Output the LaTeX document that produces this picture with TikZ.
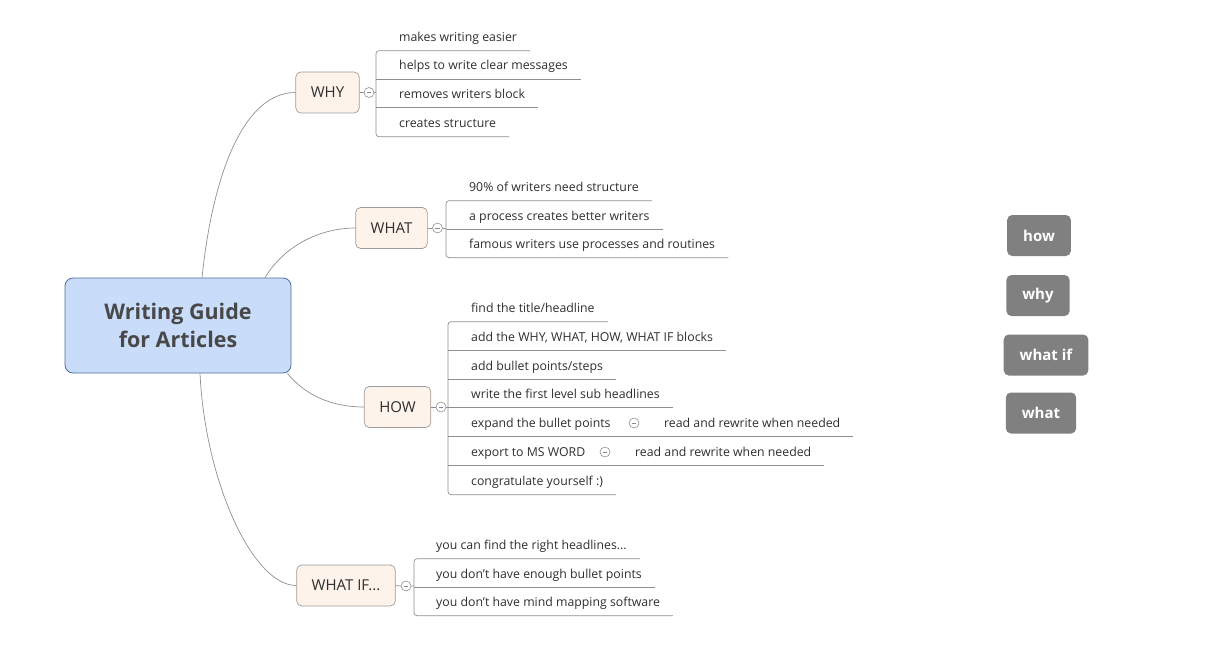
\documentclass[tikz,border=0pt]{standalone}
\usepackage{fontspec}
\setmainfont{Open Sans}
\usetikzlibrary{positioning}

\definecolor{centralfill}{HTML}{C9DCF9}
\definecolor{centraldraw}{HTML}{4F6D99}
\definecolor{centraltext}{HTML}{484848}
\definecolor{topicfill}{HTML}{FDF3EB}
\definecolor{topicdraw}{HTML}{9C9C9C}
\definecolor{linegray}{HTML}{8F8F8F}
\definecolor{textdark}{HTML}{2E2E2E}
\definecolor{foldminus}{HTML}{7A8CA8}
\definecolor{tagfill}{HTML}{808080}

\tikzset{
  central/.style={draw=centraldraw, fill=centralfill, line width=0.8pt, rounded corners=8pt,
    minimum width=226pt, minimum height=95pt, align=center, text=centraltext,
    font=\fontsize{21.5}{28.5}\selectfont\bfseries},
  topic/.style={draw=topicdraw, fill=topicfill, line width=0.7pt, rounded corners=5pt,
    minimum height=41pt, inner xsep=15pt, text=textdark, font=\fontsize{15}{18}\selectfont},
  item/.style={anchor=west, inner xsep=13pt, inner ysep=6pt, text height=12pt, text depth=3pt,
    text=textdark, font=\fontsize{12.3}{15}\selectfont},
  fold/.style={circle, draw=linegray, fill=white, line width=0.6pt, minimum size=10pt, inner sep=0pt,
    path picture={\draw[foldminus, line width=0.7pt]
      ([xshift=-2.3pt]path picture bounding box.center) -- ([xshift=2.3pt]path picture bounding box.center);}},
  branch/.style={draw=linegray, line width=0.7pt},
  bracket/.style={branch, rounded corners=3pt},
  tag/.style={fill=tagfill, rounded corners=5pt, minimum height=41pt, inner xsep=16pt,
    text=white, font=\fontsize{15}{18}\selectfont\bfseries}
}

\begin{document}
\begin{tikzpicture}[x=1pt, y=-1pt]
  \useasboundingbox (0,0) rectangle (1209,666);

  % central topic
  \node[central] (c) at (178,325.5) {Writing Guide\\for Articles};

  % main topics
  \node[topic] (why) at (327.5,92.5) {WHY};
  \node[topic] (what) at (391.5,228) {WHAT};
  \node[topic] (how) at (397.5,407) {HOW};
  \node[topic] (whatif) at (346,585.5) {WHAT IF...};

  \draw[branch] ([xshift=24pt]c.north) .. controls +(10,-97) and +(-54,0) .. (why.west);
  \draw[branch] ([xshift=87pt]c.north) .. controls +(20,-33) and +(-34,0) .. (what.west);
  \draw[branch] ([xshift=-4pt]c.south east) .. controls +(18,22) and +(-32,0) .. (how.west);
  \draw[branch] ([xshift=22pt]c.south) .. controls +(5,107) and +(-44,0) .. (whatif.west);

  % why
  \node[fold] (fy) at (369,92.5) {};
  \coordinate (wy) at (376,92.5);
  \node[item] (w1) at (386,37) {makes writing easier};
  \node[item] (w2) at (386,65.5) {helps to write clear messages};
  \node[item] (w3) at (386,94) {removes writers block};
  \node[item] (w4) at (386,123) {creates structure};
  \draw[branch] (why.east) -- (fy.west) (fy.east) -- (wy);
  \draw[bracket] (w1.south east) -- (w1.south -| wy) -- (w4.south -| wy) -- (w4.south east);
  \foreach \n in {w2,w3}
    \draw[branch] (\n.south -| wy) -- (\n.south east);

  % what
  \node[fold] (fa) at (437.5,228) {};
  \coordinate (wa) at (446,228);
  \node[item] (a1) at (456,187) {90\% of writers need structure};
  \node[item] (a2) at (456,215.5) {a process creates better writers};
  \node[item] (a3) at (456,244) {famous writers use processes and routines};
  \draw[branch] (what.east) -- (fa.west) (fa.east) -- (wa);
  \draw[bracket] (a1.south east) -- (a1.south -| wa) -- (a3.south -| wa) -- (a3.south east);
  \draw[branch] (a2.south -| wa) -- (a2.south east);

  % how
  \node[fold] (fh) at (441,407) {};
  \coordinate (wh) at (448,407);
  \node[item] (h1) at (458,308) {find the title/headline};
  \node[item] (h2) at (458,337) {add the WHY, WHAT, HOW, WHAT IF blocks};
  \node[item] (h3) at (458,365.5) {add bullet points/steps};
  \node[item] (h4) at (458,394) {write the first level sub headlines};
  \node[item] (h5) at (458,423) {expand the bullet points};
  \node[item] (h6) at (458,452) {export to MS WORD};
  \node[item] (h7) at (458,481) {congratulate yourself :)};
  \draw[branch] (how.east) -- (fh.west) (fh.east) -- (wh);
  \draw[bracket] (h1.south east) -- (h1.south -| wh) -- (h7.south -| wh) -- (h7.south east);
  \foreach \n in {h2,h3,h4}
    \draw[branch] (\n.south -| wh) -- (\n.south east);

  % sub steps under how
  \node[fold] (f5) at (634,423) {};
  \node[fold] (f6) at (605,452) {};
  \node[item] (h5r) at (651,423) {read and rewrite when needed};
  \node[item] (h6r) at (622,452) {read and rewrite when needed};
  \draw[branch] (h5.south -| wh) -- (h5.south east) -- (h5r.south east);
  \draw[branch] (h6.south -| wh) -- (h6.south east) -- (h6r.south east);

  % what if
  \node[fold] (fw) at (406,586) {};
  \coordinate (ww) at (414,586);
  \node[item] (f1) at (423,545) {you can find the right headlines...};
  \node[item] (f2) at (423,573.5) {you don{\char"27}t have enough bullet points};
  \node[item] (f3) at (423,602) {you don{\char"27}t have mind mapping software};
  \draw[branch] (whatif.east) -- (fw.west) (fw.east) -- (ww);
  \draw[bracket] (f1.south east) -- (f1.south -| ww) -- (f3.south -| ww) -- (f3.south east);
  \draw[branch] (f2.south -| ww) -- (f2.south east);

  % floating labels
  \node[tag] (thow) at (1039,235.5) {how};
  \node[tag] (twhy) at (1038,295.5) {why};
  \node[tag] (twhatif) at (1046,355) {what if};
  \node[tag] (twhat) at (1041,413) {what};
\end{tikzpicture}
\end{document}
